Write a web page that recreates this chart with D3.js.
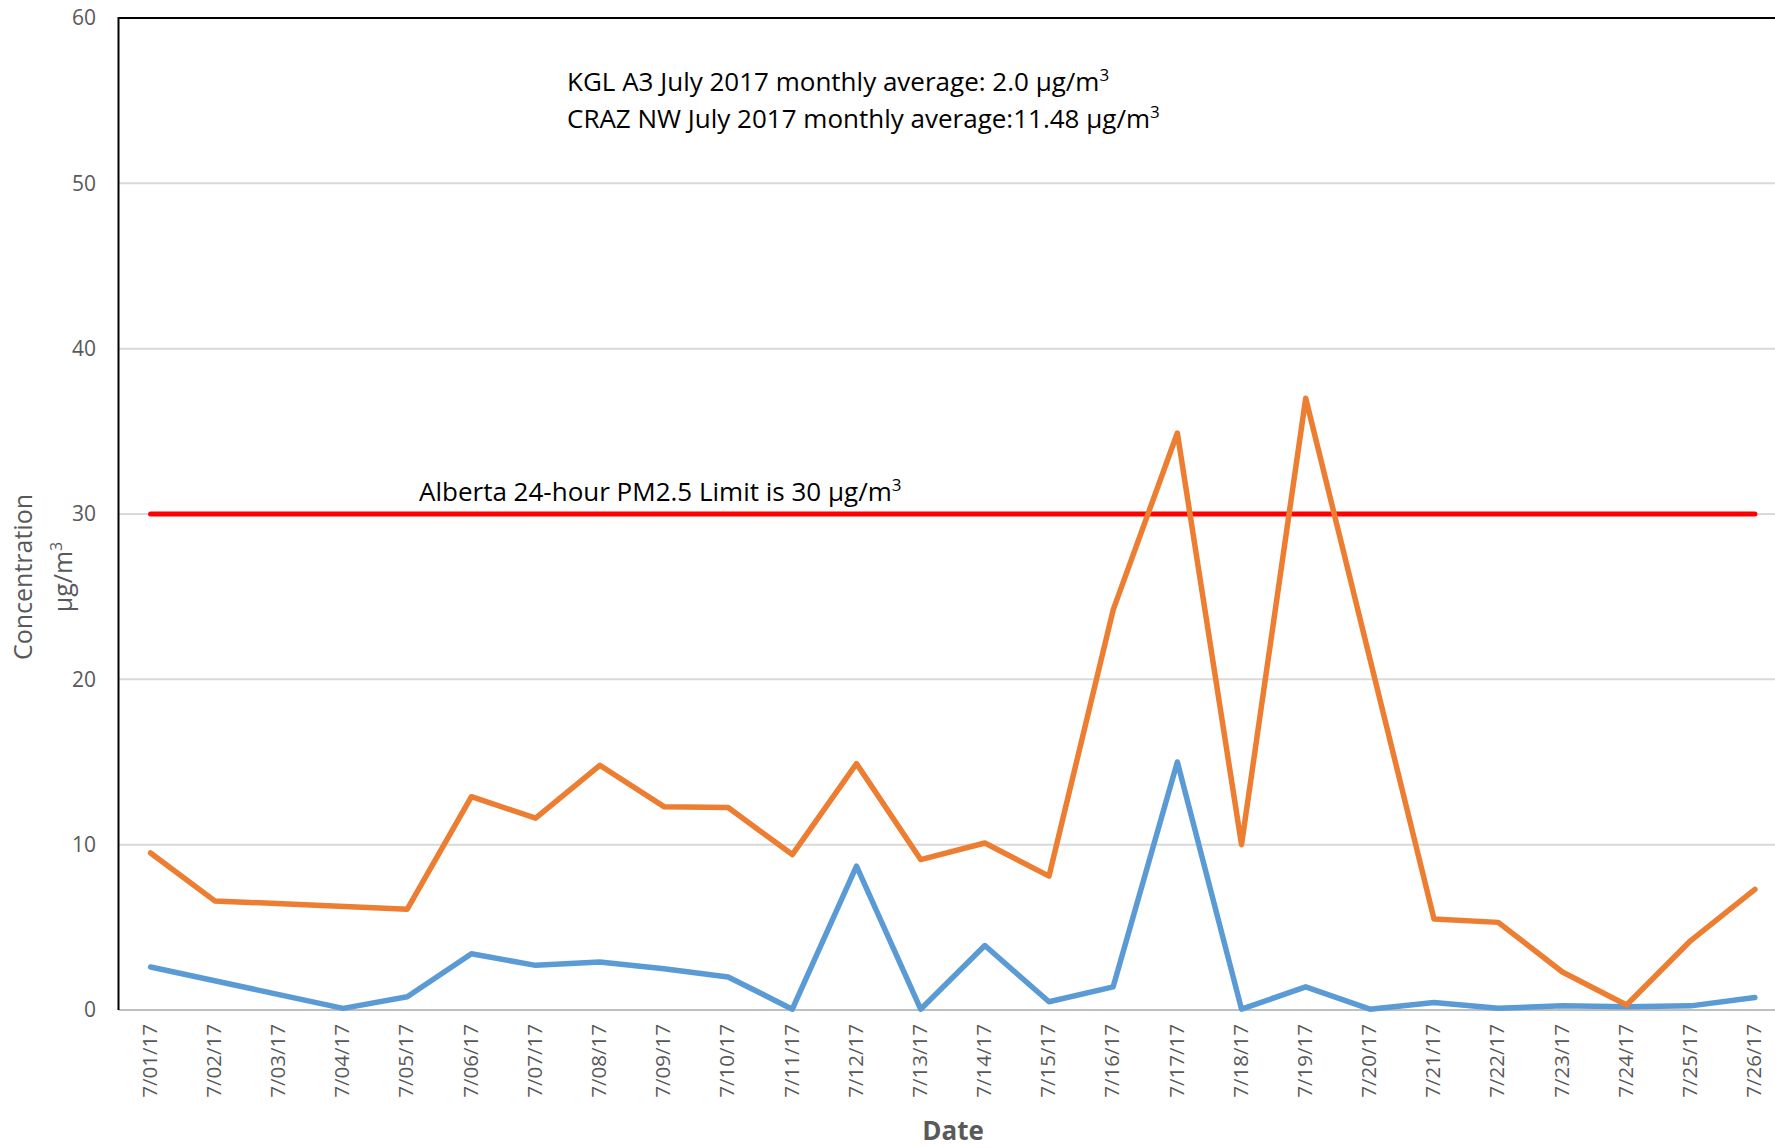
<!DOCTYPE html>
<html>
<head>
<meta charset="utf-8">
<script src="https://cdn.jsdelivr.net/npm/d3@7"></script>
<style>
  body { margin: 0; background: #fff; }
  svg { display: block; font-family: "Open Sans", sans-serif; }
</style>
</head>
<body>
<svg id="chart" width="1775" height="1148"></svg>
<script>
const dates = ["7/01/17", "7/02/17", "7/03/17", "7/04/17", "7/05/17", "7/06/17", "7/07/17",
    "7/08/17", "7/09/17", "7/10/17", "7/11/17", "7/12/17", "7/13/17", "7/14/17", "7/15/17",
    "7/16/17", "7/17/17", "7/18/17", "7/19/17", "7/20/17", "7/21/17", "7/22/17", "7/23/17",
    "7/24/17", "7/25/17", "7/26/17"];

// KGL A3 (blue)
const kgl = [2.6, null, null, 0.1, 0.8, 3.4, 2.7, 2.9, 2.5, 2.0, 0.05, 8.7, 0.05, 3.9, 0.5,
    1.4, 15.0, 0.05, 1.4, 0.05, 0.45, 0.1, 0.25, 0.2, 0.25, 0.75];

// CRAZ NW (orange)
const craz = [9.5, 6.6, null, null, 6.1, 12.9, 11.6, 14.8, 12.3, 12.25, 9.4, 14.9, 9.1, 10.1, 8.1,
    24.2, 34.9, 10.0, 37.0, null, 5.5, 5.3, 2.3, 0.3, 4.2, 7.3];

const yTicks = [0, 10, 20, 30, 40, 50, 60];
const limit = 30;

const plotLeft = 118.5, plotTop = 18, plotBottom = 1010, plotRight = 1787;

const svg = d3.select("#chart");

const x = d3.scalePoint()
    .domain(dates)
    .range([plotLeft, plotRight])
    .padding(0.5);

const y = d3.scaleLinear()
    .domain([0, 60])
    .range([plotBottom, plotTop]);

// gridlines
svg.append("g")
    .selectAll("line")
    .data(yTicks.filter(d => d > 0 && d < 60))
    .join("line")
    .attr("x1", plotLeft).attr("x2", plotRight)
    .attr("y1", d => y(d)).attr("y2", d => y(d))
    .attr("stroke", "#d9d9d9")
    .attr("stroke-width", 2);

// y tick labels
svg.append("g")
    .selectAll("text")
    .data(yTicks)
    .join("text")
    .attr("x", 96)
    .attr("y", d => y(d))
    .attr("dy", "0.35em")
    .attr("text-anchor", "end")
    .attr("font-size", 21)
    .attr("fill", "#595959")
    .text(d => d);

// x axis line
svg.append("line")
    .attr("x1", plotLeft).attr("x2", plotRight)
    .attr("y1", y(0)).attr("y2", y(0))
    .attr("stroke", "#bfbfbf")
    .attr("stroke-width", 2);

// frame: left and top
svg.append("path")
    .attr("d", `M${plotLeft},${plotBottom}V${plotTop}H${plotRight}`)
    .attr("fill", "none")
    .attr("stroke", "#000")
    .attr("stroke-width", 2);

// x tick labels
svg.append("g")
    .selectAll("text")
    .data(dates)
    .join("text")
    .attr("transform", d => `translate(${x(d) - 1},1024) rotate(-90)`)
    .attr("dy", "0.35em")
    .attr("text-anchor", "end")
    .attr("font-size", 20.5)
    .attr("fill", "#595959")
    .text(d => d);

// limit line
svg.append("line")
    .attr("x1", x(dates[0])).attr("x2", x(dates[dates.length - 1]))
    .attr("y1", y(limit)).attr("y2", y(limit))
    .attr("stroke", "#ff0000")
    .attr("stroke-width", 5)
    .attr("stroke-linecap", "round");

// series lines, gaps connected
const line = d3.line()
    .x(d => x(d.date))
    .y(d => y(d.value));

const series = [
    { values: kgl, color: "#5b9bd5" },
    { values: craz, color: "#ed7d31" }
];

svg.append("g")
    .selectAll("path")
    .data(series)
    .join("path")
    .attr("d", s => line(dates.map((d, i) => ({ date: d, value: s.values[i] })).filter(p => p.value != null)))
    .attr("fill", "none")
    .attr("stroke", s => s.color)
    .attr("stroke-width", 5.5)
    .attr("stroke-linejoin", "round")
    .attr("stroke-linecap", "round");

// annotation text with superscript 3
function unitText(xPos, yPos, label) {
    const t = svg.append("text")
        .attr("x", xPos)
        .attr("y", yPos)
        .attr("font-size", 26)
        .attr("fill", "#000");
    t.append("tspan").text(label + "µg/m");
    t.append("tspan").attr("font-size", 17).attr("dy", -10).text("3");
    return t;
}

unitText(567, 91, "KGL A3 July 2017 monthly average: 2.0 ");
unitText(567, 128, "CRAZ NW July 2017 monthly average:11.48 ");
unitText(419, 501, "Alberta 24-hour PM2.5 Limit is 30 ");

// axis titles
svg.append("text")
    .attr("transform", "translate(23,577) rotate(-90)")
    .attr("dy", "0.35em")
    .attr("text-anchor", "middle")
    .attr("font-size", 25)
    .attr("fill", "#595959")
    .text("Concentration");

const unitTitle = svg.append("text")
    .attr("transform", "translate(63,577) rotate(-90)")
    .attr("dy", "0.35em")
    .attr("text-anchor", "middle")
    .attr("font-size", 25)
    .attr("fill", "#595959");
unitTitle.append("tspan").text("µg/m");
unitTitle.append("tspan").attr("font-size", 16).attr("dy", -10).text("3");

svg.append("text")
    .attr("x", 953)
    .attr("y", 1140)
    .attr("text-anchor", "middle")
    .attr("font-size", 26)
    .attr("font-weight", "bold")
    .attr("fill", "#595959")
    .text("Date");
</script>
</body>
</html>
